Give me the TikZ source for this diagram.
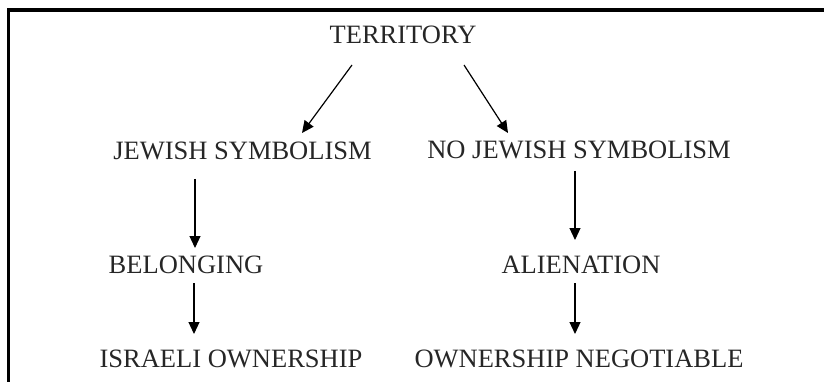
\documentclass[tikz,border=0pt]{standalone}
\usepackage{fontspec}
\setmainfont{Liberation Serif}
\usetikzlibrary{arrows.meta}
\begin{document}
\begin{tikzpicture}[x=1pt,y=-1pt,
  lbl/.style={anchor=base,inner sep=0pt,font=\fontsize{26.5}{30}\selectfont,text=black!85},
  arr/.style={line width=1.2pt,-{Triangle[length=12pt,width=11pt]}},
  frame/.style={line width=3.5pt}]
\useasboundingbox (0,0) rectangle (824,382);
\draw[frame] (8.5,382) -- (8.5,10) -- (830,10);
\node[lbl] (territory) at (403,44) {TERRITORY};
\node[lbl] (jsym) at (242.5,160) {JEWISH SYMBOLISM};
\node[lbl] (njsym) at (579,159) {NO JEWISH SYMBOLISM};
\node[lbl] (belong) at (186,273) {BELONGING};
\node[lbl] (alien) at (581,273) {ALIENATION};
\node[lbl] (israeli) at (231,367) {ISRAELI OWNERSHIP};
\node[lbl] (negot) at (579,367) {OWNERSHIP NEGOTIABLE};
\draw[arr] ([shift={(-51,21)}]territory.base) -- ([shift={(59.5,-27)}]jsym.base);
\draw[arr] ([shift={(61,21)}]territory.base) -- ([shift={(-71,-26)}]njsym.base);
\draw[arr] ([shift={(-47.5,19)}]jsym.base) -- ([shift={(9,-25)}]belong.base);
\draw[arr] ([shift={(-4,12)}]njsym.base) -- ([shift={(-6,-33)}]alien.base);
\draw[arr] ([shift={(8,10)}]belong.base) -- ([shift={(-37,-33)}]israeli.base);
\draw[arr] ([shift={(-6,10)}]alien.base) -- ([shift={(-4,-33)}]negot.base);
\end{tikzpicture}
\end{document}
